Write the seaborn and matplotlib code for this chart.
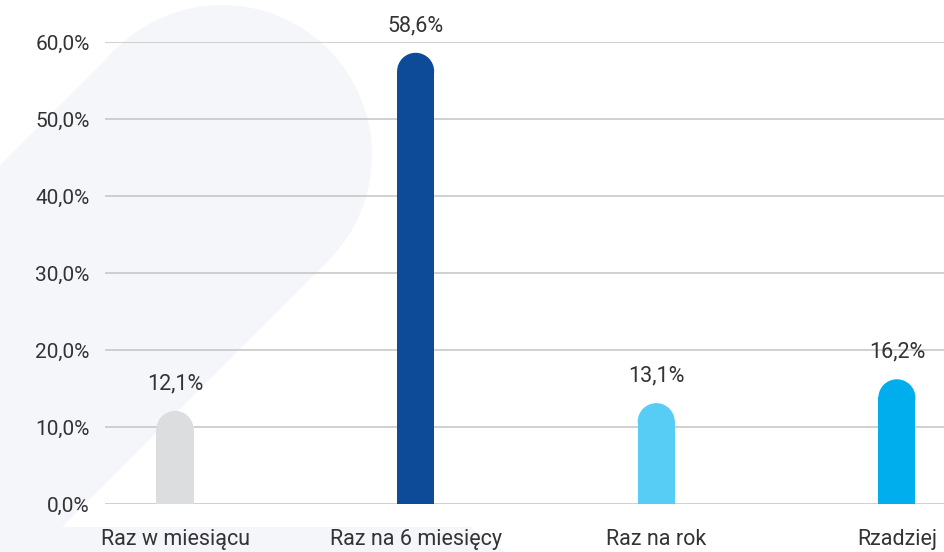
import matplotlib
matplotlib.use("Agg")
import matplotlib.pyplot as plt
from matplotlib.patches import Ellipse, Circle, Polygon
import seaborn as sns
import pandas as pd

# dane
categories = ["Raz w miesiącu", "Raz na 6 miesięcy", "Raz na rok", "Rzadziej"]
values = [12.1, 58.6, 13.1, 16.2]
colors = ["#dcdddf", "#0d4a98", "#57cdf6", "#00aeee"]
yticks = [0, 10, 20, 30, 40, 50, 60]

df = pd.DataFrame({"kat": categories, "proc": values})

sns.set_style("white")
plt.rcParams["font.family"] = ["Roboto", "DejaVu Sans"]
text_col = "#333333"

fig = plt.figure(figsize=(9.45, 5.52), dpi=100)

# tlo - jasny ksztalt w pikselach
bg = fig.add_axes([0, 0, 1, 1], zorder=0)
bg.set_xlim(0, 945)
bg.set_ylim(552, 0)
bg.axis("off")
shade = "#f5f6fa"
bg.add_patch(Circle((222, 155), 150, color=shade, lw=0))
bg.add_patch(Polygon([(116, 49), (328, 261), (62, 527), (470, 527), (505, 552),
                      (0, 552), (0, 165)], closed=True, color=shade, lw=0))

ax = fig.add_axes([105 / 945, 48 / 552, 840 / 945, 462 / 552], zorder=1)
ax.patch.set_alpha(0)

bar_w = 0.154
sns.barplot(data=df, x="kat", y="proc", hue="kat", palette=colors, legend=False,
            width=bar_w, ax=ax, zorder=3, linewidth=0, saturation=1)

ax.set_xlim(-0.291, 3.2)
ax.set_ylim(0, 60)
ax.set_yticks(yticks)
ax.set_yticklabels([f"{t:.1f}%".replace(".", ",") for t in yticks])
ax.set_xlabel("")
ax.set_ylabel("")
ax.grid(axis="y", color="#c4c4c4", lw=1.1, zorder=0)
ax.set_axisbelow(True)
sns.despine(ax=ax, left=True, bottom=True)
ax.tick_params(axis="y", length=0, pad=11, labelsize=15, labelcolor=text_col)
ax.tick_params(axis="x", length=0, pad=18, labelsize=15.5, labelcolor=text_col)

# zaokraglone gorne konce slupkow
px_x = 840 / (3.2 + 0.291)
px_y = 462 / 60
for p, v, c in zip(ax.patches, values, colors):
    w = p.get_width()
    xc = p.get_x() + w / 2
    r_y = (w / 2) * px_x / px_y
    p.set_height(v - r_y + 0.05)
    ax.add_patch(Ellipse((xc, v - r_y), w, 2 * r_y, color=c, lw=0, zorder=3))
    ax.annotate(f"{v:.1f}%".replace(".", ","), (xc, v), xytext=(0, 12),
                textcoords="offset points", ha="center", va="bottom",
                fontsize=15.5, color=text_col)

fig.savefig("out.png", dpi=100)
